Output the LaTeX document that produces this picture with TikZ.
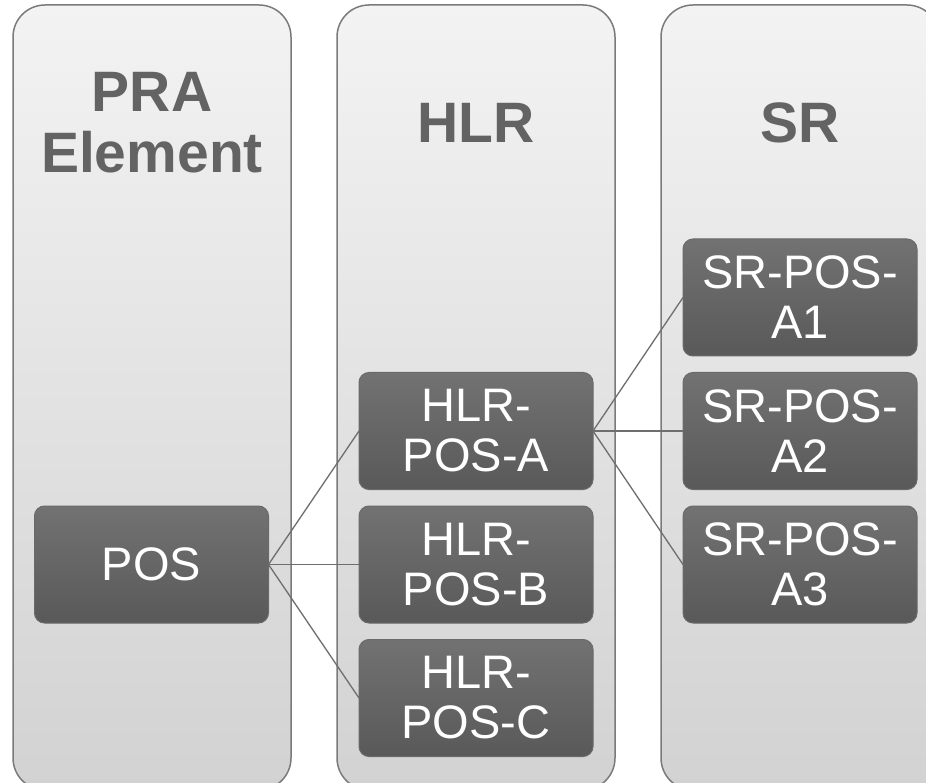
\documentclass[tikz,border=0pt]{standalone}
\usepackage{fontspec}
\setmainfont{Liberation Sans}
\definecolor{colborder}{HTML}{7A7A7A}
\definecolor{coltop}{HTML}{F3F3F3}
\definecolor{colbot}{HTML}{D2D2D2}
\definecolor{headtext}{HTML}{636363}
\definecolor{boxtop}{HTML}{727272}
\definecolor{boxbot}{HTML}{595959}
\definecolor{boxborder}{HTML}{6A6A6A}
\definecolor{linkcol}{HTML}{6E6E6E}
\begin{document}
\begin{tikzpicture}[x=1pt,y=-1pt,
  column/.style={draw=colborder, line width=1.5pt, rounded corners=32pt,
    top color=coltop, bottom color=colbot, minimum width=278pt, minimum height=785pt,
    inner sep=0pt, outer sep=0pt},
  heading/.style={text=headtext, font=\fontsize{57}{61}\selectfont\bfseries, align=center, inner sep=0pt},
  itembox/.style={draw=boxborder, line width=1pt, rounded corners=10pt,
    top color=boxtop, bottom color=boxbot, minimum width=234pt, minimum height=117pt,
    text=white, font=\fontsize{47}{50}\selectfont, align=center, inner sep=0pt, outer sep=0pt},
  link/.style={draw=linkcol, line width=1.3pt}
]
\useasboundingbox (0,0) rectangle (926,783);
\fill[white] (0,0) rectangle (926,783);
\node[column] (c1) at (152,397.5) {};
\node[column] (c2) at (476,397.5) {};
\node[column] (c3) at (800,397.5) {};
\node[heading] (h1) at (152,122.5) {PRA\\Element};
\node[heading] (h2) at (476,122.5) {HLR};
\node[heading] (h3) at (800,122.5) {SR};
\node[itembox] (pos) at (151.5,564.5) {POS};
\node[itembox] (ha) at (476,431) {HLR-\\POS-A};
\node[itembox] (hb) at (476,564.5) {HLR-\\POS-B};
\node[itembox] (hc) at (476,698) {HLR-\\POS-C};
\node[itembox] (s1) at (800,297.5) {SR-POS-\\A1};
\node[itembox] (s2) at (800,431) {SR-POS-\\A2};
\node[itembox] (s3) at (800,564.5) {SR-POS-\\A3};
\draw[link] (pos.east) -- (ha.west);
\draw[link] (pos.east) -- (hb.west);
\draw[link] (pos.east) -- (hc.west);
\draw[link] (ha.east) -- (s1.west);
\draw[link] (ha.east) -- (s2.west);
\draw[link] (ha.east) -- (s3.west);
\end{tikzpicture}
\end{document}
